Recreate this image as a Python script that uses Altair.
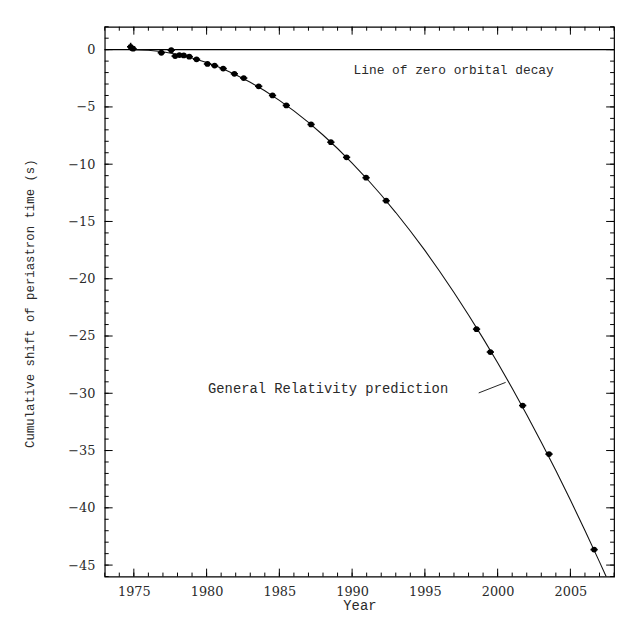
import altair as alt
import pandas as pd

# ---- data ----
obs_year = [1974.78, 1974.95, 1976.89, 1977.57, 1977.84, 1978.13, 1978.43, 1978.81,
            1979.31, 1980.06, 1980.55, 1981.14, 1981.91, 1982.55, 1983.58, 1984.53,
            1985.48, 1987.18, 1988.54, 1989.62, 1990.96, 1992.34, 1998.55, 1999.50,
            2001.72, 2003.53, 2006.63]
obs_shift = [0.25, 0.08, -0.27, -0.05, -0.56, -0.47, -0.50, -0.61,
             -0.84, -1.25, -1.39, -1.65, -2.11, -2.48, -3.20, -4.00,
             -4.87, -6.53, -8.08, -9.40, -11.18, -13.19, -24.40, -26.40,
             -31.07, -35.31, -43.65]
obs_xerr = [0.25] * len(obs_year)
obs_yerr = [0.35, 0.15, 0.2, 0.2, 0.15, 0.1, 0.1, 0.1,
            0.1, 0.05, 0.05, 0.05, 0.05, 0.05, 0.05, 0.05,
            0.05, 0.05, 0.05, 0.05, 0.05, 0.05, 0.05, 0.05,
            0.05, 0.05, 0.05]

gr_year = [1974.8, 1976, 1977, 1978, 1979, 1980, 1981, 1982, 1983, 1984, 1985,
           1986, 1987, 1988, 1989, 1990, 1991, 1992, 1993, 1994, 1995, 1996,
           1997, 1998, 1999, 2000, 2001, 2002, 2003, 2004, 2005, 2006, 2007, 2007.5]
gr_shift = [0.0, -0.05, -0.19, -0.42, -0.73, -1.13, -1.61, -2.19, -2.85, -3.59, -4.43,
            -5.35, -6.35, -7.45, -8.63, -9.90, -11.25, -12.69, -14.22, -15.83, -17.53, -19.32,
            -21.20, -23.16, -25.21, -27.34, -29.56, -31.87, -34.27, -36.75, -39.32, -41.98, -44.72, -46.12]

x_major = [1975, 1980, 1985, 1990, 1995, 2000, 2005]
x_minor = list(range(1973, 2009))
y_major = [0, -5, -10, -15, -20, -25, -30, -35, -40, -45]
y_minor = list(range(-46, 3))

labels_text = ["Line of zero orbital decay", "General Relativity prediction"]
labels_year = [1990.1, 1980.1]
labels_shift = [-1.75, -29.6]
labels_size = [13, 14]

pointer_year = [1998.7, 2000.55]
pointer_shift = [-29.97, -29.05]

# ---- tables ----
obs = pd.DataFrame({"year": obs_year, "shift": obs_shift})
obs["xlo"] = [a - e for a, e in zip(obs_year, obs_xerr)]
obs["xhi"] = [a + e for a, e in zip(obs_year, obs_xerr)]
obs["ylo"] = [a - e for a, e in zip(obs_shift, obs_yerr)]
obs["yhi"] = [a + e for a, e in zip(obs_shift, obs_yerr)]
gr = pd.DataFrame({"year": gr_year, "shift": gr_shift})
labels = pd.DataFrame({"year": labels_year, "shift": labels_shift, "text": labels_text,
                       "size": labels_size})
pointer = pd.DataFrame({"x1": [pointer_year[0]], "x2": [pointer_year[1]],
                        "y1": [pointer_shift[0]], "y2": [pointer_shift[1]]})

W, H = 516, 557
NUMFONT = "DejaVu Serif"
TXTFONT = "Liberation Mono"
TXTCOLOR = "#2a2a2a"

xscale = alt.Scale(domain=[1973, 2008], nice=False, zero=False)
yscale = alt.Scale(domain=[-46, 2], nice=False, zero=False)

xaxis = alt.Axis(values=x_major, format="d", ticks=False, tickSize=0, domain=False, grid=False,
                 labelFont=NUMFONT, labelFontSize=13, labelColor=TXTCOLOR, labelPadding=9,
                 title="Year", titleFont=TXTFONT, titleFontSize=14, titleFontWeight="normal",
                 titleColor=TXTCOLOR, titleY=29, titleBaseline="middle")
yaxis = alt.Axis(values=y_major, ticks=False, tickSize=0, domain=False, grid=False,
                 labelFont=NUMFONT, labelFontSize=13, labelColor=TXTCOLOR, labelPadding=10,
                 title="Cumulative shift of periastron time (s)", titleFont=TXTFONT,
                 titleFontSize=12.5, titleFontWeight="normal", titleColor=TXTCOLOR,
                 titleX=-76, titleY=280, titleBaseline="middle")

X = alt.X("year:Q", scale=xscale, axis=xaxis)
Y = alt.Y("shift:Q", scale=yscale, axis=yaxis)

zero_line = alt.Chart(pd.DataFrame({"shift": [0]})).mark_rule(
    color="black", strokeWidth=1.2).encode(y=alt.Y("shift:Q", scale=yscale, axis=yaxis))

curve = alt.Chart(gr).mark_line(color="#111", strokeWidth=1.1, clip=True).encode(x=X, y=Y)

xerr = alt.Chart(obs).mark_rule(color="black", strokeWidth=1.6).encode(
    x=alt.X("xlo:Q", scale=xscale, axis=xaxis), x2="xhi:Q", y=Y)
yerr = alt.Chart(obs).mark_rule(color="black", strokeWidth=1.6).encode(
    x=X, y=alt.Y("ylo:Q", scale=yscale, axis=yaxis), y2="yhi:Q")
points = alt.Chart(obs).mark_point(filled=True, shape="circle", size=34, color="black",
                                   opacity=1).encode(x=X, y=Y)

tx_major = pd.DataFrame({"year": x_major})
tx_minor = pd.DataFrame({"year": x_minor})
ty_major = pd.DataFrame({"shift": y_major})
ty_minor = pd.DataFrame({"shift": y_minor})

def xticks(df, length):
    bottom = alt.Chart(df).mark_rule(color="black", strokeWidth=1).encode(
        x=alt.X("year:Q", scale=xscale, axis=xaxis), y=alt.value(H), y2=alt.value(H - length))
    top = alt.Chart(df).mark_rule(color="black", strokeWidth=1).encode(
        x=alt.X("year:Q", scale=xscale, axis=xaxis), y=alt.value(0), y2=alt.value(length))
    return [bottom, top]

def yticks(df, length):
    left = alt.Chart(df).mark_rule(color="black", strokeWidth=1).encode(
        y=alt.Y("shift:Q", scale=yscale, axis=yaxis), x=alt.value(0), x2=alt.value(length))
    right = alt.Chart(df).mark_rule(color="black", strokeWidth=1).encode(
        y=alt.Y("shift:Q", scale=yscale, axis=yaxis), x=alt.value(W), x2=alt.value(W - length))
    return [left, right]

ticks = xticks(tx_major, 8) + xticks(tx_minor, 4) + yticks(ty_major, 8) + yticks(ty_minor, 4)

text = alt.Chart(labels).mark_text(align="left", baseline="middle", font=TXTFONT,
                                   color=TXTCOLOR).encode(
    x=X, y=Y, text="text:N", size=alt.Size("size:Q", scale=None, legend=None))
ptr = alt.Chart(pointer).mark_rule(color="#222", strokeWidth=1).encode(
    x=alt.X("x1:Q", scale=xscale, axis=xaxis), x2="x2:Q",
    y=alt.Y("y1:Q", scale=yscale, axis=yaxis), y2="y2:Q")

chart = alt.layer(zero_line, curve, xerr, yerr, points, *ticks, text, ptr).properties(
    width=W, height=H,
    autosize=alt.AutoSizeParams(type="none"),
    padding={"left": 98, "top": 15, "right": 4, "bottom": 37},
    background="white",
).configure_view(stroke="black", strokeWidth=1.2)

chart.save("out.html", embed_options={"renderer": "svg", "actions": False})
